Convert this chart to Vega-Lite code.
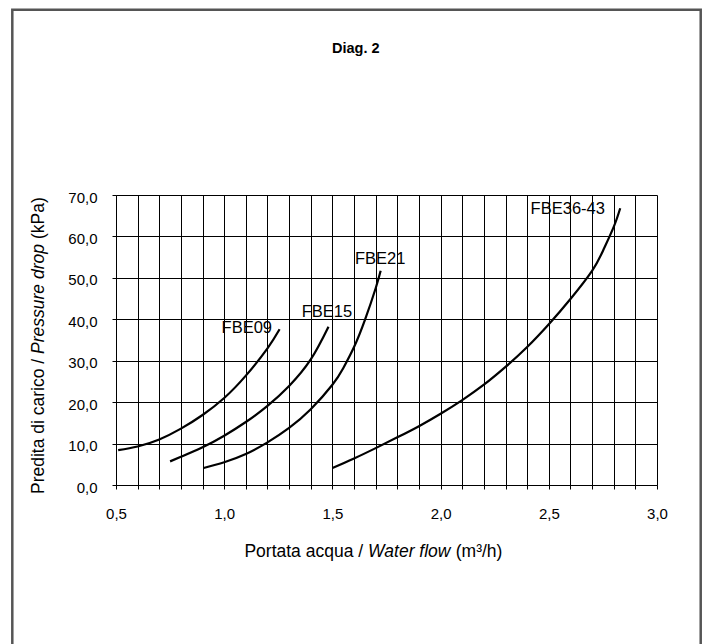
{
  "$schema": "https://vega.github.io/schema/vega-lite/v6.json",
  "width": 541,
  "height": 290,
  "autosize": {"type": "none"},
  "padding": {"left": 116, "top": 195, "right": 52, "bottom": 159},
  "background": "white",
  "config": {
    "font": "Liberation Sans",
    "view": {"stroke": null},
    "axis": {
      "grid": true,
      "gridColor": "#000",
      "gridOpacity": 1,
      "gridWidth": 1,
      "domainColor": "#000",
      "domainWidth": 1,
      "tickColor": "#000",
      "tickSize": 4,
      "labelFont": "Liberation Sans",
      "labelFontSize": 15,
      "labelColor": "#000",
      "labelOverlap": false,
      "labelFlush": false,
      "title": null
    }
  },
  "datasets": {
    "curves": [
      {"series": "FBE09", "flow": 0.51, "dp": 8.4},
      {"series": "FBE09", "flow": 0.6, "dp": 9.3},
      {"series": "FBE09", "flow": 0.7, "dp": 11.0},
      {"series": "FBE09", "flow": 0.8, "dp": 13.6},
      {"series": "FBE09", "flow": 0.9, "dp": 16.9},
      {"series": "FBE09", "flow": 1.0, "dp": 21.0},
      {"series": "FBE09", "flow": 1.1, "dp": 26.4},
      {"series": "FBE09", "flow": 1.2, "dp": 33.0},
      {"series": "FBE09", "flow": 1.256, "dp": 37.6},
      {"series": "FBE15", "flow": 0.75, "dp": 5.7},
      {"series": "FBE15", "flow": 0.8, "dp": 6.8},
      {"series": "FBE15", "flow": 0.9, "dp": 9.1},
      {"series": "FBE15", "flow": 1.0, "dp": 11.9},
      {"series": "FBE15", "flow": 1.1, "dp": 15.2},
      {"series": "FBE15", "flow": 1.2, "dp": 19.1},
      {"series": "FBE15", "flow": 1.3, "dp": 23.9},
      {"series": "FBE15", "flow": 1.4, "dp": 30.3},
      {"series": "FBE15", "flow": 1.482, "dp": 38.2},
      {"series": "FBE21", "flow": 0.905, "dp": 4.1},
      {"series": "FBE21", "flow": 1.0, "dp": 5.5},
      {"series": "FBE21", "flow": 1.1, "dp": 7.5},
      {"series": "FBE21", "flow": 1.2, "dp": 10.3},
      {"series": "FBE21", "flow": 1.3, "dp": 13.8},
      {"series": "FBE21", "flow": 1.4, "dp": 18.3},
      {"series": "FBE21", "flow": 1.5, "dp": 24.2},
      {"series": "FBE21", "flow": 1.55, "dp": 28.2},
      {"series": "FBE21", "flow": 1.6, "dp": 33.3},
      {"series": "FBE21", "flow": 1.65, "dp": 39.8},
      {"series": "FBE21", "flow": 1.7, "dp": 47.5},
      {"series": "FBE21", "flow": 1.723, "dp": 51.7},
      {"series": "FBE36-43", "flow": 1.5, "dp": 4.1},
      {"series": "FBE36-43", "flow": 1.6, "dp": 6.4},
      {"series": "FBE36-43", "flow": 1.7, "dp": 8.9},
      {"series": "FBE36-43", "flow": 1.8, "dp": 11.5},
      {"series": "FBE36-43", "flow": 1.9, "dp": 14.2},
      {"series": "FBE36-43", "flow": 2.0, "dp": 17.2},
      {"series": "FBE36-43", "flow": 2.1, "dp": 20.5},
      {"series": "FBE36-43", "flow": 2.2, "dp": 24.2},
      {"series": "FBE36-43", "flow": 2.3, "dp": 28.5},
      {"series": "FBE36-43", "flow": 2.4, "dp": 33.3},
      {"series": "FBE36-43", "flow": 2.5, "dp": 38.8},
      {"series": "FBE36-43", "flow": 2.6, "dp": 44.9},
      {"series": "FBE36-43", "flow": 2.7, "dp": 51.7},
      {"series": "FBE36-43", "flow": 2.75, "dp": 56.5},
      {"series": "FBE36-43", "flow": 2.8, "dp": 62.3},
      {"series": "FBE36-43", "flow": 2.83, "dp": 66.8}
    ],
    "labels": [
      {"label": "FBE09", "flow": 0.988, "dp": 36.76},
      {"label": "FBE15", "flow": 1.358, "dp": 40.62},
      {"label": "FBE21", "flow": 1.604, "dp": 53.35},
      {"label": "FBE36-43", "flow": 2.416, "dp": 65.34}
    ]
  },
  "layer": [
    {
      "data": {"name": "curves"},
      "mark": {"type": "line", "color": "#000", "strokeWidth": 2.2, "interpolate": "natural"},
      "encoding": {
        "x": {
          "field": "flow",
          "type": "quantitative",
          "scale": {"domain": [0.5, 3.0], "nice": false, "zero": false},
          "axis": {
            "values": [0.5, 0.6, 0.7, 0.8, 0.9, 1.0, 1.1, 1.2, 1.3, 1.4, 1.5, 1.6, 1.7, 1.8, 1.9, 2.0, 2.1, 2.2, 2.3, 2.4, 2.5, 2.6, 2.7, 2.8, 2.9, 3.0],
            "tickCount": 40,
            "labelExpr": "round(datum.value*10) % 5 == 0 ? replace(format(datum.value, '.1f'), '.', ',') : ''",
            "labelPadding": 17
          }
        },
        "y": {
          "field": "dp",
          "type": "quantitative",
          "scale": {"domain": [0, 70], "nice": false, "zero": false},
          "axis": {
            "values": [0, 10, 20, 30, 40, 50, 60, 70],
            "tickCount": 10,
            "labelExpr": "replace(format(datum.value, '.1f'), '.', ',')",
            "labelPadding": 15,
            "labelOffset": 2
          }
        },
        "detail": {"field": "series"}
      }
    },
    {
      "data": {"name": "labels"},
      "mark": {"type": "text", "align": "left", "baseline": "alphabetic", "fontSize": 16.5, "color": "#000", "font": "Liberation Sans"},
      "encoding": {
        "x": {"field": "flow", "type": "quantitative", "scale": {"domain": [0.5, 3.0], "nice": false, "zero": false}},
        "y": {"field": "dp", "type": "quantitative", "scale": {"domain": [0, 70], "nice": false, "zero": false}},
        "text": {"field": "label"}
      }
    },
    {
      "data": {"values": [{}]},
      "mark": {"type": "rect", "fill": "transparent", "stroke": "#555", "strokeWidth": 2.5},
      "encoding": {
        "x": {"datum": 0.0208, "type": "quantitative"},
        "x2": {"datum": 3.202},
        "y": {"datum": 114.73, "type": "quantitative"},
        "y2": {"datum": -39.8}
      }
    },
    {
      "data": {"values": [{}]},
      "mark": {"type": "text", "align": "center", "baseline": "alphabetic", "fontSize": 14.5, "fontWeight": "bold", "color": "#000", "font": "Liberation Sans"},
      "encoding": {
        "x": {"datum": 1.608, "type": "quantitative"},
        "y": {"datum": 104.2, "type": "quantitative"},
        "text": {"value": "Diag. 2"}
      }
    },
    {
      "data": {"values": [{}]},
      "mark": {"type": "text", "align": "right", "baseline": "alphabetic", "fontSize": 17.5, "color": "#000", "font": "Liberation Sans"},
      "encoding": {
        "x": {"datum": 1.642, "type": "quantitative"},
        "y": {"datum": -17.38, "type": "quantitative"},
        "text": {"value": "Portata acqua /"}
      }
    },
    {
      "data": {"values": [{}]},
      "mark": {"type": "text", "align": "left", "baseline": "alphabetic", "fontSize": 17.5, "fontStyle": "italic", "color": "#000", "font": "Liberation Sans"},
      "encoding": {
        "x": {"datum": 1.665, "type": "quantitative"},
        "y": {"datum": -17.38, "type": "quantitative"},
        "text": {"value": "Water flow"}
      }
    },
    {
      "data": {"values": [{}]},
      "mark": {"type": "text", "align": "left", "baseline": "alphabetic", "fontSize": 17.5, "color": "#000", "font": "Liberation Sans"},
      "encoding": {
        "x": {"datum": 2.07, "type": "quantitative"},
        "y": {"datum": -17.38, "type": "quantitative"},
        "text": {"value": "(m³/h)"}
      }
    },
    {
      "data": {"values": [{}]},
      "mark": {"type": "text", "align": "right", "baseline": "alphabetic", "angle": 270, "fontSize": 17.5, "color": "#000", "font": "Liberation Sans"},
      "encoding": {
        "x": {"datum": 0.165, "type": "quantitative"},
        "y": {"datum": 30.46, "type": "quantitative"},
        "text": {"value": "Predita di carico /"}
      }
    },
    {
      "data": {"values": [{}]},
      "mark": {"type": "text", "align": "left", "baseline": "alphabetic", "angle": 270, "fontSize": 17.5, "fontStyle": "italic", "color": "#000", "font": "Liberation Sans"},
      "encoding": {
        "x": {"datum": 0.165, "type": "quantitative"},
        "y": {"datum": 31.64, "type": "quantitative"},
        "text": {"value": "Pressure drop"}
      }
    },
    {
      "data": {"values": [{}]},
      "mark": {"type": "text", "align": "left", "baseline": "alphabetic", "angle": 270, "fontSize": 17.5, "color": "#000", "font": "Liberation Sans"},
      "encoding": {
        "x": {"datum": 0.165, "type": "quantitative"},
        "y": {"datum": 59.36, "type": "quantitative"},
        "text": {"value": "(kPa)"}
      }
    }
  ]
}
